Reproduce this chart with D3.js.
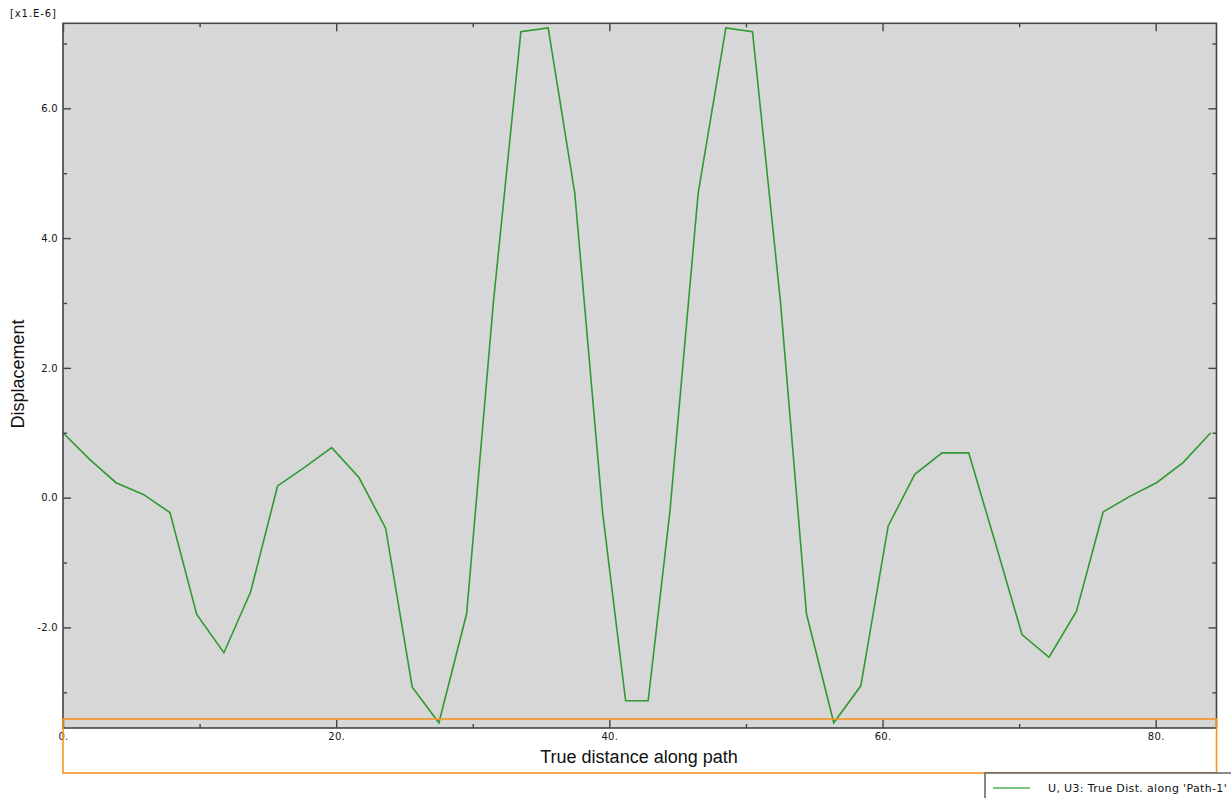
<!DOCTYPE html>
<html>
<head>
<meta charset="utf-8">
<script src="https://cdn.jsdelivr.net/npm/d3@7"></script>
<style>
body { margin: 0; background: #fff; }
svg { display: block; }
.tick text { font-family: "DejaVu Sans", sans-serif; font-size: 10px; fill: #111; letter-spacing: 0.3px; }
</style>
</head>
<body>
<svg id="svg"></svg>
<script>
var width = 1231, height = 798;

// true distance along path
var distance = [0, 1.95, 3.88, 5.88, 7.83, 9.79, 11.78, 13.74, 15.71, 17.71,
	19.67, 21.67, 23.62, 25.57, 27.52, 29.55, 31.51, 33.52, 35.52, 37.47,
	39.50, 41.19, 42.84, 44.43, 46.50, 48.53, 50.48, 52.53, 54.43, 56.43,
	58.41, 60.41, 62.36, 64.36, 66.31, 68.26, 70.21, 72.19, 74.20, 76.15,
	78.10, 80.06, 82.00, 84.03];
// U3 displacement, x1.E-6
var displacement = [1.00, 0.59, 0.23, 0.05, -0.23, -1.80, -2.39, -1.45, 0.18, 0.47,
	0.77, 0.31, -0.47, -2.92, -3.47, -1.79, 3.01, 7.18, 7.24, 4.69,
	-0.22, -3.13, -3.13, -0.22, 4.69, 7.24, 7.18, 3.01, -1.79, -3.47,
	-2.90, -0.44, 0.36, 0.69, 0.69, -0.70, -2.11, -2.46, -1.75, -0.22,
	0.02, 0.23, 0.54, 1.00];
var xMajor = [0, 20, 40, 60, 80];
var xMinor = [10, 30, 50, 70];
var yMajor = [-2, 0, 2, 4, 6];
var yMinor = [-3, -1, 1, 3, 5, 7];
var seriesName = "U, U3: True Dist. along 'Path-1'";

var svg = d3.select("#svg")
	.attr("width", width)
	.attr("height", height);

var plotLeft = 63, plotRight = 1216.5, plotTop = 23.3, plotBottom = 728;

var x = d3.scaleLinear()
	.domain([0, 84.45])
	.range([plotLeft, plotRight]);
var y = d3.scaleLinear()
	.domain([-3.55, 7.31])
	.range([plotBottom, plotTop]);

svg.append("rect")
	.attr("x", plotLeft)
	.attr("y", plotTop)
	.attr("width", plotRight - plotLeft)
	.attr("height", plotBottom - plotTop)
	.style("fill", "#d7d7d7");

var data = distance.map(function(d, i) { return [d, displacement[i]]; });
var line = d3.line()
	.x(function(d) { return x(d[0]); })
	.y(function(d) { return y(d[1]); });
svg.append("path")
	.datum(data)
	.attr("d", line)
	.style("fill", "none")
	.style("stroke", "#2f9a2f")
	.style("stroke-width", 1.6);

// axes, ticks point inward
function addAxis(axis, tx, ty) {
	var g = svg.append("g")
		.attr("transform", "translate(" + tx + "," + ty + ")")
		.call(axis);
	g.select(".domain").remove();
	g.selectAll(".tick line").style("stroke", "#444").style("stroke-width", 1.4);
	return g;
}
addAxis(d3.axisBottom(x).tickValues(xMajor).tickSize(-8).tickPadding(5)
	.tickFormat(function(d) { return d + "."; }), 0, plotBottom);
addAxis(d3.axisBottom(x).tickValues(xMinor).tickSize(-4).tickFormat(""), 0, plotBottom);
addAxis(d3.axisTop(x).tickValues(xMajor).tickSize(-8).tickFormat(""), 0, plotTop);
addAxis(d3.axisTop(x).tickValues(xMinor).tickSize(-4).tickFormat(""), 0, plotTop);
addAxis(d3.axisLeft(y).tickValues(yMajor).tickSize(-8).tickPadding(5)
	.tickFormat(function(d) { return d.toFixed(1); }), plotLeft, 0);
addAxis(d3.axisLeft(y).tickValues(yMinor).tickSize(-4).tickFormat(""), plotLeft, 0);
addAxis(d3.axisRight(y).tickValues(yMajor).tickSize(-8).tickFormat(""), plotRight, 0);
addAxis(d3.axisRight(y).tickValues(yMinor).tickSize(-4).tickFormat(""), plotRight, 0);

svg.append("rect")
	.attr("x", plotLeft)
	.attr("y", plotTop)
	.attr("width", plotRight - plotLeft)
	.attr("height", plotBottom - plotTop)
	.style("fill", "none")
	.style("stroke", "#444")
	.style("stroke-width", 1.6);

svg.append("text")
	.attr("x", 10)
	.attr("y", 17)
	.style("font-family", "DejaVu Sans, sans-serif")
	.style("font-size", "10px")
	.style("letter-spacing", "0.9px")
	.style("fill", "#111")
	.text("[x1.E-6]");

svg.append("text")
	.attr("transform", "translate(24,374) rotate(-90)")
	.style("text-anchor", "middle")
	.style("font-family", "Liberation Sans, Arial, sans-serif")
	.style("font-size", "18px")
	.style("fill", "#111")
	.text("Displacement");

svg.append("text")
	.attr("x", 639)
	.attr("y", 763)
	.style("text-anchor", "middle")
	.style("font-family", "Liberation Sans, Arial, sans-serif")
	.style("font-size", "18px")
	.style("fill", "#111")
	.text("True distance along path");

// highlight box around the x axis
svg.append("rect")
	.attr("x", plotLeft)
	.attr("y", 719)
	.attr("width", plotRight - plotLeft)
	.attr("height", 54)
	.style("fill", "none")
	.style("stroke", "#f7941e")
	.style("stroke-width", 1.6);

// legend
var legend = svg.append("g").attr("transform", "translate(985,773)");
legend.append("rect")
	.attr("x", 0)
	.attr("y", 0)
	.attr("width", 260)
	.attr("height", 40)
	.style("fill", "#fff")
	.style("stroke", "#555")
	.style("stroke-width", 1.4);
legend.append("line")
	.attr("x1", 8)
	.attr("x2", 45)
	.attr("y1", 15)
	.attr("y2", 15)
	.style("stroke", "#7cc47c")
	.style("stroke-width", 2);
legend.append("text")
	.attr("x", 63)
	.attr("y", 19)
	.style("font-family", "DejaVu Sans, sans-serif")
	.style("font-size", "11px")
	.style("letter-spacing", "0.35px")
	.style("fill", "#111")
	.text(seriesName);
</script>
</body>
</html>
